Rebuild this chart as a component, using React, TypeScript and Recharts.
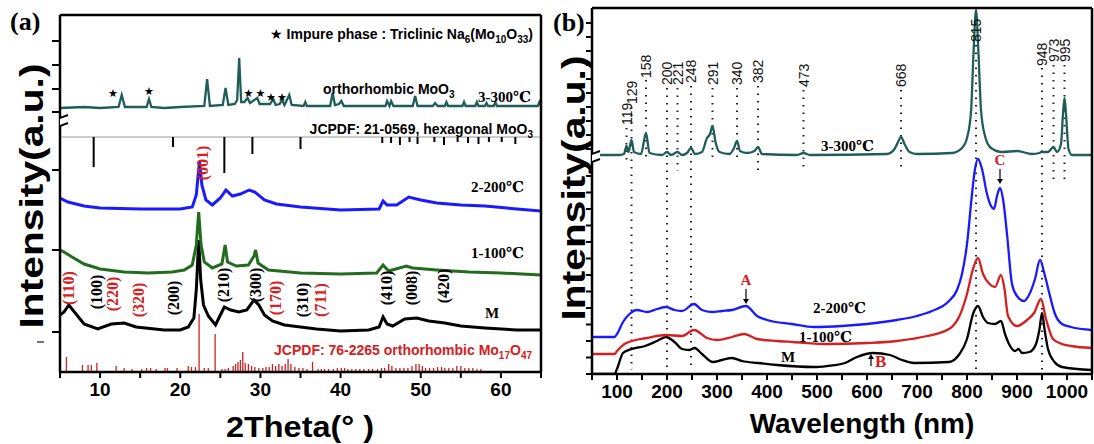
import React from 'react';
import { ComposedChart, Line, XAxis, YAxis, ReferenceLine, Scatter } from 'recharts';

type P = [number, number];

// ================= Panel (a): XRD, 2Theta (deg) vs stacked intensity (a.u.) =================
const xrd300: P[] = [[5,264],[8,265],[10,264],[12.3,265],[12.7,277],[13.1,265],[15.8,265],[16.1,273],[16.4,265],[18,264],[20,265],[23.0,266],[23.35,293],[23.7,266],[25.3,267],[25.65,284],[26.0,267],[26.8,268],[27.1,272],[27.35,314],[27.6,270],[28.0,270],[28.4,274],[28.7,269],[29.6,274],[29.9,268],[31.2,268],[31.6,273],[31.9,267],[32.4,268],[32.7,272],[33.0,267],[33.6,277],[33.9,267],[35.4,266],[35.6,270],[35.8,266],[38.7,266],[39.0,279],[39.3,267],[39.8,268],[40.1,271],[40.4,266],[45.6,266],[45.8,271],[46.1,266],[46.3,271],[46.6,266],[49.0,266],[49.3,276],[49.6,266],[51.5,266],[51.8,269],[52.1,266],[53.0,266],[53.2,270],[53.4,266],[55.2,266],[55.4,270],[55.6,266],[56.8,266],[57.0,270],[57.2,266],[58.0,266],[58.2,269],[58.4,266],[59.1,266],[59.3,270],[59.5,266],[64.6,266],[64.8,270],[65,266]];
const xrd200: P[] = [[5,174],[6,170],[8,166],[10,164],[15,163],[20,163],[21.5,165],[22.0,177],[22.4,210],[22.7,187],[23.2,172],[24,167],[25,174],[25.7,182],[26.5,176],[27.5,178],[28.6,182],[29.3,180],[30.5,172],[32,168],[35,165],[40,162],[44.8,163],[45.3,171],[45.8,167],[47,167],[48.5,175],[50,172],[52,169],[55,167],[58,166],[62,163],[65,161]];
const xrd100: P[] = [[5,122],[5.5,120],[6.5,115],[8,108],[10,103],[13,100],[16,99],[19,100],[20.5,102],[21.5,107],[22.0,127],[22.3,160],[22.6,127],[23.0,110],[24,104],[25.2,108],[25.6,127],[25.9,110],[27,106],[28.5,107],[29.2,116],[29.4,122],[29.7,109],[31,102],[35,99],[40,98],[44.5,99],[45.3,107],[46,101],[48.2,106],[49,104],[52,102],[56,100],[60,99],[65,97]];
const xrdM: P[] = [[5,57],[5.5,60],[6.1,67],[6.8,60],[8,48],[9.7,43],[11.4,48],[13,49],[14.5,45],[18,42],[20,42],[21,45],[21.7,54],[22.0,82],[22.3,132],[22.55,92],[22.9,67],[23.5,56],[24.4,47],[25.0,57],[25.5,65],[26.3,62],[27.3,60],[28.3,62],[29.2,72],[29.8,67],[30.5,57],[31.5,51],[33,47],[35,45],[37,43],[40,41],[43.5,42],[44.8,45],[45.3,55],[45.8,48],[46.5,46],[48,53],[49.5,54],[51,51],[53,49],[55,46],[58,44],[62,42],[65,42]];

// JCPDF 76-2265 (orthorhombic Mo17O47) stick pattern
const orthoPos = [5.8,7.8,8.5,8.9,9.6,12.0,13.0,14.0,15.2,15.8,16.3,17.0,18.1,18.4,19.6,21.0,21.4,21.9,22.35,23.0,23.5,24.35,25.2,25.6,26.0,26.6,26.9,27.2,27.5,27.8,28.1,28.5,28.9,29.3,29.8,30.3,30.7,31.1,31.5,31.9,32.3,32.7,33.1,33.45,33.8,34.3,34.8,35.3,35.8,36.5,37.2,37.6,38.0,38.5,39.1,39.6,40.1,40.5,40.9,41.4,41.9,42.4,42.9,43.5,44.0,44.6,45.1,45.5,46.0,46.4,46.9,47.4,47.9,48.4,48.9,49.4,49.8,50.2,50.6,51.1,51.6,52.1,52.6,53.0,53.5,54.0,54.5,55.0,55.5,56.0,56.5,57.0,57.5];
const orthoH = [15,7,7,7,9,6,4,3,3,4,4,3,4,4,4,6,5,5,58,4,4,38,3,3,4,6,8,10,12,20,9,8,6,5,4,4,5,5,8,6,8,6,8,13,8,5,4,4,3,10,3,3,3,3,3,4,4,4,3,3,3,3,3,3,3,3,4,4,8,6,4,4,4,4,6,8,8,6,4,4,4,5,5,4,4,4,6,6,4,4,4,3,3];
// JCPDF 21-0569 (hexagonal MoO3) sticks hanging from the reference line
const hexTop = 235;
const hexPos = [9.2,19.1,25.5,29.0,35.0,45.2,46.3,47.4,48.6,49.6,51.7,52.9,54.6,55.9,57.2,58.5,60.1,61.8];
const hexLen = [30,10,36,17,12,6,6,8,5,7,5,8,5,6,7,5,5,7];

const millerLabels: { x: number; y: number; text: string; color: string }[] = [
  { x: 6.0, y: 84, text: '(110)', color: '#d42020' },
  { x: 9.6, y: 80, text: '(100)', color: '#000' },
  { x: 11.6, y: 78, text: '(220)', color: '#d42020' },
  { x: 14.8, y: 72, text: '(320)', color: '#d42020' },
  { x: 19.2, y: 74, text: '(200)', color: '#000' },
  { x: 22.75, y: 209, text: '(001)', color: '#d42020' },
  { x: 25.4, y: 87, text: '(210)', color: '#000' },
  { x: 29.4, y: 87, text: '(300)', color: '#000' },
  { x: 31.9, y: 74, text: '(170)', color: '#d42020' },
  { x: 35.2, y: 72, text: '(310)', color: '#000' },
  { x: 37.5, y: 72, text: '(711)', color: '#d42020' },
  { x: 45.7, y: 84, text: '(410)', color: '#000' },
  { x: 48.9, y: 84, text: '(008)', color: '#000' },
  { x: 52.9, y: 86, text: '(420)', color: '#000' },
];
const starPos: P[] = [[11.6,279],[16.1,281],[28.5,279],[30.0,279],[31.3,275],[32.7,275]];
const xrdXTicks = [5,10,15,20,25,30,35,40,45,50,55,60,65];
const xrdYTicks = [40,122,202,260,283,307,331];

// ================= Panel (b): Raman, wavenumber vs stacked intensity (a.u.) =================
const raman300: P[] = [[50,219],[105,219],[114,220],[119,228],[123,222],[129,234],[134,222],[148,220],[158,241],[165,221],[190,219],[200,222],[208,219],[221,222],[230,219],[240,221],[248,226],[256,220],[270,222],[280,236],[286,240],[291,248],[297,232],[305,222],[325,220],[334,226],[340,233],[346,223],[360,221],[375,223],[382,227],[390,220],[460,219],[473,221],[486,219],[640,220],[655,225],[662,232],[668,237],[675,230],[685,222],[700,220],[770,221],[790,226],[800,236],[808,262],[813,320],[818,364],[823,320],[828,264],[836,238],[848,226],[870,222],[900,223],[930,220],[945,221],[948,222],[962,222],[973,227],[980,222],[988,230],[992,260],[995,276],[998,260],[1003,225],[1010,219],[1050,219]];
const raman200: P[] = [[50,37],[95,37],[100,40],[112,52],[125,60],[140,64],[160,62],[180,65],[198,67],[215,64],[230,63],[254,70],[270,64],[290,62],[310,63],[330,64],[358,68],[380,58],[400,54],[450,50],[494,47],[550,48],[600,50],[660,54],[700,58],[730,63],[764,73],[780,84],[790,100],[800,130],[810,180],[816,205],[822,215],[830,205],[840,180],[848,168],[854,165],[860,178],[866,186],[872,175],[880,140],[890,90],[900,78],[914,73],[925,80],[936,95],[946,114],[955,100],[965,80],[976,60],[990,50],[1008,47],[1050,44]];
const raman100: P[] = [[50,20],[95,20],[100,23],[115,30],[130,33],[160,36],[198,39],[230,38],[254,44],[280,36],[300,34],[330,37],[354,40],[380,35],[420,33],[452,32],[522,30],[600,31],[660,33],[720,38],[764,45],[785,58],[800,80],[812,105],[822,116],[832,100],[845,90],[856,87],[868,99],[875,85],[882,58],[900,48],[920,54],[934,61],[948,75],[958,55],[972,35],[990,30],[1008,28],[1050,26]];
const ramanM: P[] = [[50,0],[95,0],[100,5],[112,21],[130,25],[156,28],[180,33],[198,37],[215,32],[230,25],[245,24],[255,26],[270,20],[292,12],[310,14],[330,16],[350,13],[382,11],[420,9],[494,7],[520,8],[556,11],[580,17],[612,21],[646,19],[670,14],[694,11],[764,12],[785,20],[800,35],[812,60],[822,68],[832,57],[842,51],[856,50],[868,53],[876,40],[884,30],[896,23],[903,25],[910,21],[925,22],[938,30],[945,45],[950,61],[955,45],[962,25],[975,12],[990,7],[1050,4]];

// peak markers: position, label, label bottom, dotted line top, dotted line bottom
const ramanPeakPos = [119,129,158,200,221,248,291,340,382,473,668,818,950,973,995];
const ramanPeakText = ['119','129','158','200','221','248','291','340','382','473','668','815','948','973','995'];
const ramanLabelBase = [249,270,296,289,289,291,289,289,291,287,287,332,308,312,312];
const ramanDotTop = [246,267,294,286,286,288,286,286,288,284,284,329,306,309,309];
const ramanDotBottom = [209,4,212,4,203,4,212,214,202,202,202,4,4,194,194];
const ramanXTicks = [50,100,150,200,250,300,350,400,450,500,550,600,650,700,750,800,850,900,950,1000,1050];
const ramanYTicks = [0,16.5,33,49.5,66,82.5,99,115.5,132,148.5,165,181.5,198,225,239,253,267,281,295,309,323,337,351];
const ramanMarks = [
  { x: 358, y: 70, letter: 'A', dir: 'down' },
  { x: 866, y: 190, letter: 'C', dir: 'down' },
  { x: 608, y: 20, letter: 'B', dir: 'up' },
];

const SANS = "'Liberation Sans', Arial, Helvetica, sans-serif";
const SERIF = "'Liberation Serif', 'Times New Roman', 'DejaVu Serif', 'Noto Sans CJK SC', serif";
const TEAL = '#1f5d59';
const BLUE = '#1a1aff';
const GREEN = '#236b1d';
const RED = '#d42020';

const pts = (a: P[]) => a.map(([x, y]) => ({ x, y }));

const tickStyle = { fontSize: 19, fontWeight: 'bold' as const, fontFamily: SANS, fill: '#000' };
const axisLine = { stroke: '#000', strokeWidth: 2.5 };
const tickLine = { stroke: '#000', strokeWidth: 2 };

const RotLabel = (p: any) => {
  const { cx, cy, payload } = p;
  return (
    <text x={cx} y={cy} transform={`rotate(-90 ${cx} ${cy})`} textAnchor="middle" dominantBaseline="central"
      fill={payload.color} fontSize={16} fontWeight="bold" fontFamily={SERIF}>{payload.text}</text>
  );
};
const StarMark = (p: any) => (
  <text x={p.cx} y={p.cy} textAnchor="middle" dominantBaseline="central" fontSize={11} fontFamily="'DejaVu Sans', sans-serif" fill="#000">★</text>
);
const PeakLabel = (p: any) => (
  <text x={p.cx} y={p.cy} transform={`rotate(-90 ${p.cx} ${p.cy})`} textAnchor="start" dominantBaseline="central"
    fontSize={14} fontFamily={SANS} fill="#111">{p.payload.text}</text>
);
const BreakMark = (p: any) => {
  const { cx, cy } = p;
  return (
    <g>
      <polygon points={`${cx - 8},${cy - 1} ${cx + 8},${cy - 7} ${cx + 8},${cy + 1} ${cx - 8},${cy + 7}`} fill="#fff" />
      <line x1={cx - 8} y1={cy - 1} x2={cx + 8} y2={cy - 7} stroke="#000" strokeWidth={2} />
      <line x1={cx - 8} y1={cy + 7} x2={cx + 8} y2={cy + 1} stroke="#000" strokeWidth={2} />
    </g>
  );
};
const ArrowMark = (p: any) => {
  const { cx, cy, payload } = p;
  if (payload.dir === 'down') {
    return (
      <g>
        <line x1={cx} y1={cy - 15} x2={cx} y2={cy - 4} stroke="#000" strokeWidth={1.2} />
        <polygon points={`${cx - 3},${cy - 5} ${cx + 3},${cy - 5} ${cx},${cy}`} fill="#000" />
        <text x={cx} y={cy - 19} textAnchor="middle" fontSize={15} fontWeight="bold" fontFamily={SERIF} fill={RED}>{payload.letter}</text>
      </g>
    );
  }
  return (
    <g>
      <line x1={cx} y1={cy + 12} x2={cx} y2={cy + 4} stroke="#000" strokeWidth={1.2} />
      <polygon points={`${cx - 3},${cy + 5} ${cx + 3},${cy + 5} ${cx},${cy}`} fill="#000" />
      <text x={cx + 4} y={cy + 13} textAnchor="start" fontSize={17} fontWeight="bold" fontFamily={SERIF} fill={RED}>{payload.letter}</text>
    </g>
  );
};

function XrdPanel() {
  return (
    <ComposedChart width={550} height={444} margin={{ top: 14, right: 8, bottom: 42, left: 50 }}>
      <XAxis dataKey="x" type="number" domain={[5, 65]} ticks={xrdXTicks} interval={0} height={30}
        tickFormatter={(v: number) => (v % 10 === 0 && v > 5 && v < 65 ? String(v) : '')}
        tick={tickStyle} tickSize={6} tickMargin={5}
        axisLine={axisLine} tickLine={tickLine} allowDataOverflow />
      <XAxis xAxisId="top" orientation="top" dataKey="x" type="number" domain={[5, 65]} height={1} ticks={[5, 65]}
        tickFormatter={() => ''} tickLine={false} axisLine={axisLine} />
      <YAxis type="number" domain={[0, 357]} ticks={xrdYTicks} interval={0} width={10} tickFormatter={() => ''}
        tickSize={8} axisLine={axisLine} tickLine={tickLine} allowDataOverflow />
      <YAxis yAxisId="right" orientation="right" type="number" domain={[0, 357]} width={1} ticks={[0]}
        tickFormatter={() => ''} tickLine={false} axisLine={axisLine} />
      <ReferenceLine y={hexTop} stroke="#999" strokeWidth={1.2} />
      {hexPos.map((x, i) => (
        <ReferenceLine key={'h' + i} segment={[{ x, y: hexTop }, { x, y: hexTop - hexLen[i] }]} stroke="#000" strokeWidth={2} />
      ))}
      {orthoPos.map((x, i) => (
        <ReferenceLine key={'o' + i} segment={[{ x, y: 0 }, { x, y: orthoH[i] }]} stroke={RED} strokeWidth={1.3} />
      ))}
      <Line data={pts(xrdM)} dataKey="y" stroke="#000" strokeWidth={3} dot={false} isAnimationActive={false} type="linear" />
      <Line data={pts(xrd100)} dataKey="y" stroke={GREEN} strokeWidth={3} dot={false} isAnimationActive={false} type="linear" />
      <Line data={pts(xrd200)} dataKey="y" stroke={BLUE} strokeWidth={3} dot={false} isAnimationActive={false} type="linear" />
      <Line data={pts(xrd300)} dataKey="y" stroke={TEAL} strokeWidth={2.3} dot={false} isAnimationActive={false} type="linear" />
      <Scatter data={millerLabels} dataKey="y" shape={RotLabel} isAnimationActive={false} />
      <Scatter data={pts(starPos)} dataKey="y" shape={StarMark} isAnimationActive={false} />
      <Scatter data={[{ x: 5, y: 250 }]} dataKey="y" shape={BreakMark} isAnimationActive={false} />
    </ComposedChart>
  );
}

function RamanPanel() {
  const peakLabels = ramanPeakPos.map((x, i) => ({ x, y: ramanLabelBase[i], text: ramanPeakText[i] }));
  return (
    <ComposedChart width={544} height={444} margin={{ top: 7, right: 1, bottom: 40, left: 32 }}>
      <XAxis dataKey="x" type="number" domain={[50, 1050]} ticks={ramanXTicks} interval={0} height={30}
        tickFormatter={(v: number) => (v % 100 === 0 ? String(v) : '')}
        tick={tickStyle} tickSize={6} tickMargin={5}
        axisLine={axisLine} tickLine={tickLine} allowDataOverflow />
      <XAxis xAxisId="top" orientation="top" dataKey="x" type="number" domain={[50, 1050]} height={1} ticks={[50, 1050]}
        tickFormatter={() => ''} tickLine={false} axisLine={axisLine} />
      <YAxis type="number" domain={[0, 366]} ticks={ramanYTicks} interval={0} width={10} tickFormatter={() => ''}
        tickSize={6} axisLine={axisLine} tickLine={tickLine} allowDataOverflow />
      <YAxis yAxisId="right" orientation="right" type="number" domain={[0, 366]} width={1} ticks={[0]}
        tickFormatter={() => ''} tickLine={false} axisLine={axisLine} />
      {ramanPeakPos.map((x, i) => (
        <ReferenceLine key={'d' + i} segment={[{ x, y: ramanDotTop[i] }, { x, y: ramanDotBottom[i] }]}
          stroke="#222" strokeWidth={2} strokeDasharray="1.5 6" />
      ))}
      <Line data={pts(ramanM)} dataKey="y" stroke="#000" strokeWidth={2.3} dot={false} isAnimationActive={false} type="monotone" />
      <Line data={pts(raman100)} dataKey="y" stroke={RED} strokeWidth={2.3} dot={false} isAnimationActive={false} type="monotone" />
      <Line data={pts(raman200)} dataKey="y" stroke={BLUE} strokeWidth={2.3} dot={false} isAnimationActive={false} type="monotone" />
      <Line data={pts(raman300)} dataKey="y" stroke={TEAL} strokeWidth={2.3} dot={false} isAnimationActive={false} type="monotone" />
      <Scatter data={peakLabels} dataKey="y" shape={PeakLabel} isAnimationActive={false} />
      <Scatter data={ramanMarks} dataKey="y" shape={ArrowMark} isAnimationActive={false} />
      <Scatter data={[{ x: 50, y: 216 }]} dataKey="y" shape={BreakMark} isAnimationActive={false} />
    </ComposedChart>
  );
}

function Overlay() {
  const bold = { fontWeight: 'bold' as const };
  return (
    <svg width={1094} height={444} style={{ position: 'absolute', left: 0, top: 0, pointerEvents: 'none' }}>
      <text x={10} y={30} fontSize={26} fontFamily={SERIF} {...bold}>(a)</text>
      <text x={553} y={31} fontSize={26} fontFamily={SERIF} {...bold}>(b)</text>
      <text transform="translate(31,196) rotate(-90)" textAnchor="middle" dominantBaseline="central" fontSize={33}
        textLength={265} lengthAdjust="spacingAndGlyphs" fontFamily={SANS} {...bold}>Intensity(a.u.)</text>
      <text transform="translate(573,188) rotate(-90)" textAnchor="middle" dominantBaseline="central" fontSize={33}
        textLength={265} lengthAdjust="spacingAndGlyphs" fontFamily={SANS} {...bold}>Intensity(a.u.)</text>
      <text x={300} y={437} textAnchor="middle" fontSize={29} textLength={148} lengthAdjust="spacingAndGlyphs" fontFamily={SANS} {...bold}>2Theta(°  )</text>
      <text x={862} y={433} textAnchor="middle" fontSize={28} fontFamily={SANS} {...bold}>Wavelength (nm)</text>
      <line x1={37} y1={342} x2={44} y2={342} stroke="#444" strokeWidth={1.5} />
      {/* panel (a) annotations */}
      <text x={533} y={39} textAnchor="end" fontSize={14} fontFamily={SANS} {...bold}>
        <tspan fontFamily="'DejaVu Sans', sans-serif" fontWeight="normal">★</tspan> Impure phase : Triclinic  Na<tspan fontSize={10} dy={4}>6</tspan><tspan dy={-4}>(Mo</tspan><tspan fontSize={10} dy={4}>10</tspan><tspan dy={-4}>O</tspan><tspan fontSize={10} dy={4}>33</tspan><tspan dy={-4}>)</tspan>
      </text>
      <text x={323} y={94} fontSize={14} fontFamily={SANS} {...bold}>orthorhombic MoO<tspan fontSize={10} dy={4}>3</tspan></text>
      <text x={478} y={102} fontSize={15} fontFamily={SERIF} {...bold}>3-300℃</text>
      <text x={533} y={134} textAnchor="end" fontSize={14} fontFamily={SANS} {...bold}>JCPDF: 21-0569, hexagonal MoO<tspan fontSize={10} dy={4}>3</tspan></text>
      <text x={471} y={192} fontSize={15} fontFamily={SERIF} {...bold}>2-200℃</text>
      <text x={471} y={258} fontSize={15} fontFamily={SERIF} {...bold}>1-100℃</text>
      <text x={485} y={318} fontSize={15} fontFamily={SERIF} {...bold}>M</text>
      <text x={532} y={355} textAnchor="end" fontSize={14} fontFamily={SANS} fill={RED} {...bold}>JCPDF: 76-2265 orthorhombic  Mo<tspan fontSize={10} dy={4}>17</tspan><tspan dy={-4}>O</tspan><tspan fontSize={10} dy={4}>47</tspan></text>
      {/* panel (b) annotations */}
      <text x={821} y={151} fontSize={15} fontFamily={SERIF} {...bold}>3-300℃</text>
      <text x={813} y={313} fontSize={15} fontFamily={SERIF} {...bold}>2-200℃</text>
      <text x={799} y={342} fontSize={15} fontFamily={SERIF} {...bold}>1-100℃</text>
      <text x={781} y={362} fontSize={15} fontFamily={SERIF} {...bold}>M</text>
    </svg>
  );
}

export default function App() {
  return (
    <div style={{ position: 'absolute', left: 0, top: 0, width: 1094, height: 444, background: '#fff', overflow: 'hidden' }}>
      <div style={{ position: 'absolute', left: 0, top: 0 }}><XrdPanel /></div>
      <div style={{ position: 'absolute', left: 550, top: 0 }}><RamanPanel /></div>
      <Overlay />
    </div>
  );
}
